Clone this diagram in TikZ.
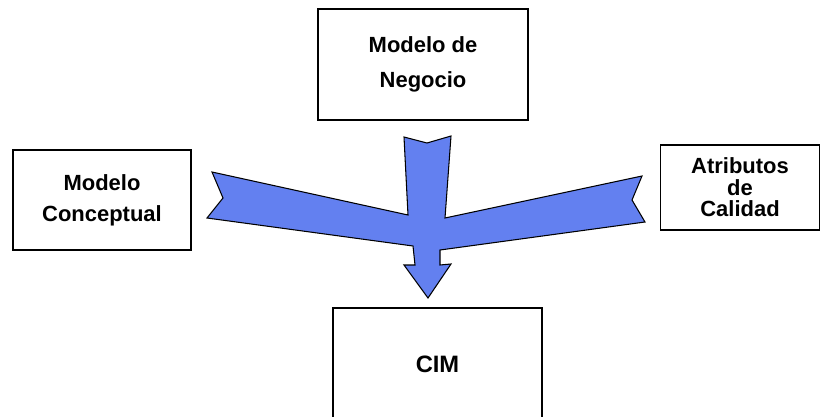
\documentclass[tikz,border=0pt]{standalone}
\usepackage{fontspec}
\setmainfont{Liberation Sans}
\definecolor{arrowblue}{RGB}{99,128,240}
\tikzset{modelbox/.style={draw, line width=1.1pt, align=center, inner sep=0pt,
    font=\bfseries\fontsize{12.5}{15}\selectfont}}

\begin{document}
\begin{tikzpicture}[x=0.02cm, y=-0.02cm]
    \useasboundingbox (0,0) rectangle (821,416);
    \clip (0,0) rectangle (821,416);
    \node[modelbox, minimum width=4.2cm, minimum height=2.22cm] (MN) at (423,64.5) {Modelo de\\[4.8pt]Negocio};
    \node[modelbox, minimum width=3.56cm, minimum height=2cm] (MC) at (102,200) {Modelo\\[2.6pt]Conceptual};
    \node[modelbox, minimum width=3.18cm, minimum height=1.7cm] (AC) at (740,187.5) {Atributos\\[-2.8pt]de\\[-2.8pt]Calidad};
    \node[modelbox, minimum width=4.18cm, minimum height=2.24cm, font=\bfseries\fontsize{13.5}{16}\selectfont] (CIM) at (437.5,364) {CIM};

    \filldraw[fill=arrowblue, draw=black, line width=0.6pt, line join=miter]
      (404,137) -- (427,143) -- (451,136) -- (445,218)
      -- (642,176) -- (632,200) -- (645,222) -- (440,250)
      -- (440,265) -- (451,264) -- (428,298) -- (404,265) -- (415,265)
      -- (413,246) -- (207,218) -- (223,198) -- (212,172)
      -- (408,215) -- cycle;
  \end{tikzpicture}
\end{document}
